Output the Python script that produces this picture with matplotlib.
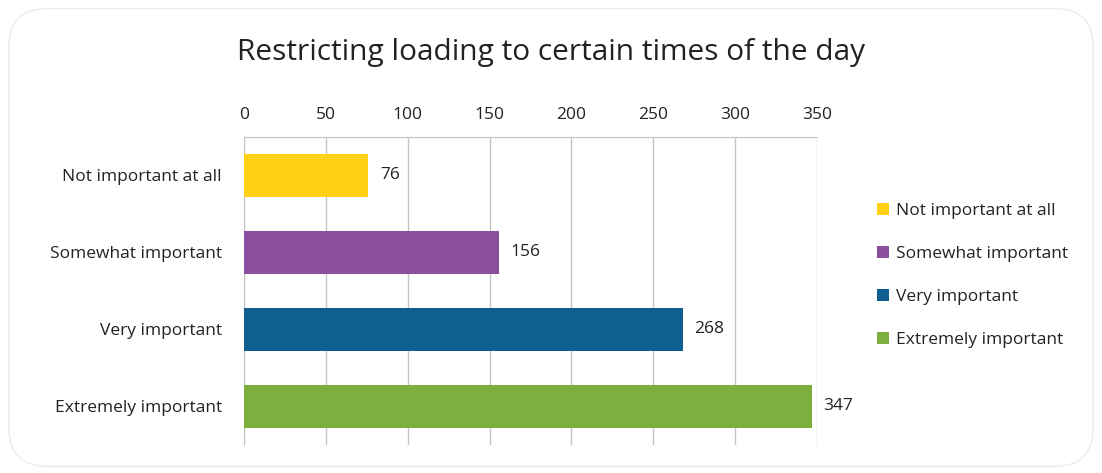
import matplotlib.pyplot as plt
from matplotlib.patches import FancyBboxPatch

categories = ['Not important at all', 'Somewhat important', 'Very important', 'Extremely important']
counts = [76, 156, 268, 347]
colors = ['#FFD014', '#8B4F9F', '#0F6090', '#7DAF3E']
ticks = [0, 50, 100, 150, 200, 250, 300, 350]

plt.rcParams['font.family'] = ['Open Sans', 'DejaVu Sans']
fs = 12.5

fig = plt.figure(figsize=(11.02, 4.73), dpi=100)

# rounded frame around the whole chart
frame = FancyBboxPatch((0.008, 0.014), 0.984, 0.968, boxstyle='round,pad=0,rounding_size=0.035',
                       transform=fig.transFigure, fill=False, edgecolor='#ececec', linewidth=1.0,
                       mutation_aspect=1102 / 473)
fig.patches.append(frame)

ax = fig.add_axes([0.2214, 0.0592, 0.52, 0.6512])

y = range(len(categories))
for i, (c, v, col) in enumerate(zip(categories, counts, colors)):
    ax.barh(i, v, height=0.57, color=col, label=c, zorder=3)
    ax.text(v + 7, i, str(v), va='center', ha='left', fontsize=fs, color='#222222')

ax.set_xlim(0, 350)
ax.set_ylim(3.5, -0.5)
ax.set_xticks(ticks)
ax.xaxis.tick_top()
ax.tick_params(axis='x', length=0, pad=10, labelsize=fs, labelcolor='#222222')
ax.set_yticks(list(y))
ax.set_yticklabels(categories)
ax.tick_params(axis='y', length=0, pad=16, labelsize=fs, labelcolor='#222222')
ax.grid(axis='x', color='#c4c4c4', linewidth=1, zorder=0)

for s in ['bottom', 'right']:
    ax.spines[s].set_visible(False)
for s in ['top', 'left']:
    ax.spines[s].set_color('#c4c4c4')

fig.text(0.5, 0.89, 'Restricting loading to certain times of the day', ha='center', va='center',
         fontsize=21.5, color='#222222')

ax.legend(loc='center left', bbox_to_anchor=(1.09, 0.55), frameon=False, fontsize=fs,
          borderpad=0, handlelength=0.7, handleheight=0.7, handletextpad=0.4,
          labelspacing=1.55, labelcolor='#222222')

fig.savefig('out.png', dpi=100)
